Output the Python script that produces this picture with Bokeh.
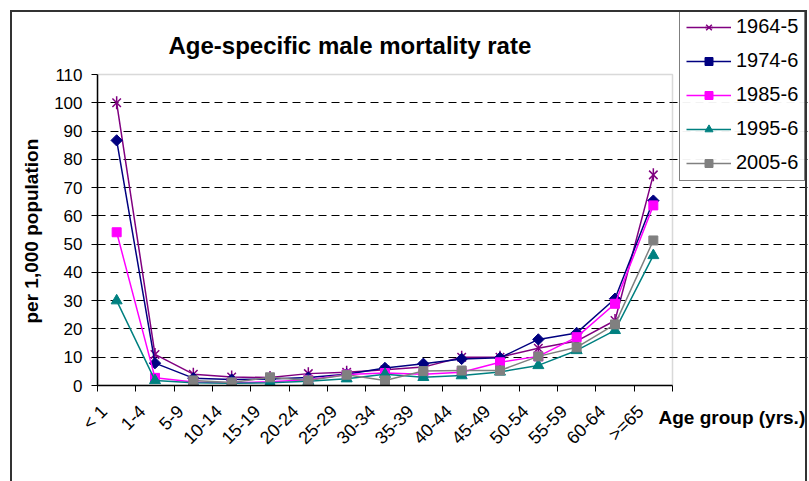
import math
from bokeh.plotting import figure
from bokeh.models import (Legend, LegendItem, FixedTicker, Title, Label,
                          BoxAnnotation, InlineStyleSheet)
from bokeh.embed import file_html
from bokeh.resources import INLINE

nan = float("nan")

# Age groups and male mortality rates (per 1,000 population)
age_groups = ["< 1", "1-4", "5-9", "10-14", "15-19", "20-24", "25-29", "30-34",
              "35-39", "40-44", "45-49", "50-54", "55-59", "60-64", ">=65"]
rate_1964 = [100.0, 11.0, 4.0, 3.0, 2.8, 4.2, 4.7, 5.6, 6.5, 10.0, 10.0, 13.2, 15.7, 23.0, 74.5]
rate_1974 = [86.7, 7.9, 2.6, 2.1, 2.3, 2.8, 4.0, 6.2, 7.7, 9.4, 9.8, 16.3, 18.6, 30.7, 65.4]
rate_1985 = [54.2, 2.7, 1.2, 1.0, 1.3, 2.0, 3.9, 4.4, 4.0, 4.7, 8.2, 10.3, 17.1, 28.9, 63.7]
rate_1995 = [30.0, 1.8, 1.0, 0.8, 1.0, 1.5, 2.4, 4.0, 2.9, 3.5, 4.8, 7.1, 12.4, 19.5, 46.0]
rate_2005 = [nan, nan, 1.8, 1.1, 2.9, 1.8, 3.8, 1.8, 5.1, 5.3, 5.3, 10.3, 13.5, 21.6, 51.3]

y_ticks = list(range(0, 111, 10))

FONT = "Liberation Sans"

n = len(age_groups)
Y_MAX = 110
xs = [i + 0.5 for i in range(n)]          # category centres
label_pos = [x - 0.33 for x in xs]        # rotated labels sit a little left of centre

# Canvas geometry: the frame also holds the title and legend; the plot area
# (axes box) is the sub-rectangle [0, n] x [0, Y_MAX].
W, H = 809, 481
LEFT, TOP, BOTTOM = 97, 10, 96
AREA_W, AREA_H = 575, 311                 # pixel size of the axes box
frame_w, frame_h = W - LEFT, H - TOP - BOTTOM
x_hi = n * frame_w / AREA_W
y_hi = Y_MAX * frame_h / AREA_H
px_x = AREA_W / n
px_y = AREA_H / Y_MAX

# Thin dark frame round the whole chart area
frame_css = InlineStyleSheet(css="""
:host::after {
  content: "";
  position: absolute;
  left: 10px; top: 10px;
  width: 797px; height: 471px;
  box-sizing: border-box;
  border: 2px solid #333333;
  border-bottom: none;
  pointer-events: none;
  z-index: 10;
}
""")

p = figure(width=W, height=H, x_range=(0, x_hi), y_range=(0, y_hi),
           output_backend="svg", toolbar_location=None,
           min_border_left=LEFT, min_border_right=0,
           min_border_top=TOP, min_border_bottom=BOTTOM)
p.stylesheets = [frame_css]

p.background_fill_color = "white"
p.border_fill_color = "white"
p.outline_line_color = None

# Plot-area border (grey), drawn beneath the axes
p.add_layout(BoxAnnotation(left=0, right=n, bottom=0, top=Y_MAX,
                           fill_color=None, line_color="#808080",
                           line_width=1.5, level="underlay"))

# Chart title
p.add_layout(Label(x=(168 - LEFT) / px_x, y=(frame_h - (45 - TOP)) / px_y,
                   text="Age-specific male mortality rate", text_font=FONT,
                   text_font_size="24px", text_font_style="bold",
                   text_baseline="middle", text_align="left", text_color="black"))

# X axis: labels near category centres, tick marks at category boundaries
p.xaxis.bounds = (0, n)
p.xaxis.ticker = FixedTicker(ticks=label_pos, minor_ticks=list(range(n + 1)))
p.xaxis.major_label_overrides = {x: lab for x, lab in zip(label_pos, age_groups)}
p.xaxis.major_label_orientation = math.pi / 4
p.xaxis.major_tick_in = 0
p.xaxis.major_tick_out = 0
p.xaxis.minor_tick_in = 0
p.xaxis.minor_tick_out = 6
p.xaxis.minor_tick_line_color = "black"
p.xaxis.minor_tick_line_width = 1
p.xaxis.axis_line_color = "black"
p.xaxis.axis_line_width = 1.5
p.xaxis.major_label_text_font = FONT
p.xaxis.major_label_text_font_size = "18px"
p.xaxis.major_label_text_color = "black"
p.xaxis.major_label_standoff = 17

# Y axis
p.yaxis.bounds = (0, Y_MAX)
p.yaxis.ticker = FixedTicker(ticks=y_ticks, minor_ticks=[])
p.yaxis.major_tick_in = 0
p.yaxis.major_tick_out = 6
p.yaxis.major_tick_line_color = "black"
p.yaxis.axis_line_color = "black"
p.yaxis.axis_line_width = 1.5
p.yaxis.major_label_text_font = FONT
p.yaxis.major_label_text_font_size = "17px"
p.yaxis.major_label_text_color = "black"
p.yaxis.major_label_standoff = 9

# Value axis title, centred on the plot area rather than the whole frame
p.add_layout(Title(text="per 1,000 population", align="left", offset=62,
                   standoff=20, text_font=FONT, text_font_size="19px",
                   text_font_style="bold", text_color="black"), "left")

# Grid: dashed horizontal lines across the plot area only
p.xgrid.visible = False
p.ygrid.ticker = FixedTicker(ticks=y_ticks[1:-1])
p.ygrid.bounds = (0, n)
p.ygrid.grid_line_color = "black"
p.ygrid.grid_line_dash = "8 5"
p.ygrid.grid_line_width = 1

series = [
    ("1964-5", rate_1964, "#800080"),
    ("1974-6", rate_1974, "#000080"),
    ("1985-6", rate_1985, "#FF00FF"),
    ("1995-6", rate_1995, "#008080"),
    ("2005-6", rate_2005, "#808080"),
]

items = []
for label, ys, color in series:
    line = p.line(xs, ys, line_color=color, line_width=1.5)
    rends = [line]
    if label == "1964-5":
        rends.append(p.scatter(xs, ys, marker="x", size=12, line_color=color, line_width=1.5))
        rends.append(p.scatter(xs, ys, marker="dash", angle=math.pi / 2, size=13,
                               line_color=color, line_width=1.5))
    elif label == "1974-6":
        rends.append(p.scatter(xs, ys, marker="square", angle=math.pi / 4, size=8,
                               fill_color=color, line_color=color))
    elif label == "1995-6":
        rends.append(p.scatter(xs, ys, marker="triangle", size=11,
                               fill_color=color, line_color=color))
    else:
        rends.append(p.scatter(xs, ys, marker="square", size=9,
                               fill_color=color, line_color=color))
    items.append(LegendItem(label=label, renderers=rends))

legend = Legend(items=items, location=(679 - LEFT, frame_h - (181 - TOP)))
legend.border_line_color = "black"
legend.border_line_width = 1
legend.background_fill_color = "white"
legend.label_text_font = FONT
legend.label_text_font_size = "20px"
legend.label_text_color = "black"
legend.glyph_width = 45
legend.glyph_height = 20
legend.label_height = 20
legend.spacing = 11
legend.padding = 6
legend.margin = 0
legend.label_standoff = 5
p.add_layout(legend)

# Category axis title, to the right of the rotated tick labels
p.add_layout(Title(text="Age group (yrs.)", align="left", offset=658 - LEFT,
                   vertical_align="top", standoff=-104, text_font=FONT,
                   text_font_size="19px", text_font_style="bold",
                   text_color="black"), "below")

open("out.html", "w").write(file_html(p, INLINE))
